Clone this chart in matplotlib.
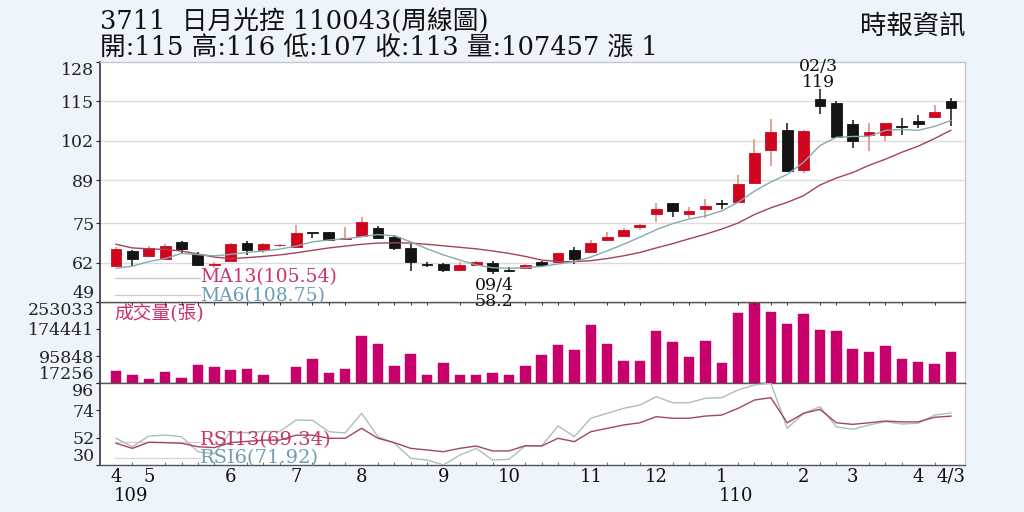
import matplotlib
matplotlib.use('Agg')
import matplotlib.pyplot as plt
import numpy as np

# ---------------- data ----------------
opens = [61.0, 65.8, 64.0, 63.3, 68.8, 64.8, 61.3, 62.6, 68.3, 66.0,
         67.6, 67.2, 71.8, 71.9, 69.8, 70.8, 73.5, 70.3, 66.9, 61.6,
         61.5, 59.5, 61.2, 62.0, 59.4, 60.2, 62.1, 62.1, 66.1, 65.6,
         69.3, 70.8, 73.8, 77.9, 81.5, 78.0, 79.5, 81.4, 82.0, 88.1,
         99.0, 105.6, 92.5, 115.7, 114.4, 107.5, 104.0, 104.0, 106.8, 108.5,
         109.8, 115.0]
highs = [67.0, 66.0, 67.3, 68.0, 69.2, 65.3, 62.2, 68.3, 69.0, 68.3,
         68.2, 74.3, 71.8, 72.2, 73.8, 77.0, 73.9, 71.0, 68.0, 62.3,
         62.0, 62.3, 62.6, 62.5, 60.4, 61.4, 62.4, 65.2, 67.2, 69.4,
         72.0, 73.5, 74.7, 81.7, 81.6, 80.2, 82.8, 82.6, 90.8, 102.7,
         109.2, 107.8, 105.6, 119.0, 115.0, 108.9, 107.8, 108.0, 109.5, 110.6,
         113.8, 116.0]
lows = [60.5, 61.0, 63.8, 63.0, 65.0, 61.0, 60.3, 62.4, 64.5, 65.2,
        67.2, 67.0, 70.0, 69.0, 69.4, 70.5, 70.0, 66.0, 59.2, 60.6,
        59.0, 59.3, 61.0, 58.2, 58.8, 59.9, 60.8, 62.0, 61.5, 65.3,
        69.0, 70.5, 72.8, 75.2, 77.0, 76.6, 76.8, 79.5, 81.7, 88.0,
        93.8, 91.8, 91.6, 111.0, 103.0, 99.6, 98.8, 102.1, 104.0, 106.2,
        109.5, 107.0]
closes = [66.5, 63.3, 66.8, 67.5, 66.3, 61.3, 61.6, 68.0, 66.1, 68.0,
          67.9, 71.6, 71.6, 69.3, 70.0, 75.4, 70.2, 66.7, 62.1, 61.3,
          59.5, 61.2, 62.2, 59.2, 59.3, 61.1, 61.1, 65.0, 63.3, 68.5,
          70.5, 72.7, 74.2, 79.5, 79.0, 79.0, 80.7, 81.2, 87.7, 97.9,
          104.8, 92.0, 105.3, 113.6, 103.4, 102.1, 104.9, 107.8, 106.6, 107.7,
          111.6, 113.0]
volumes = [50900, 39300, 29700, 49200, 31800, 68300, 64500, 53800, 56700, 41300,
           0, 63700, 86900, 47100, 56700, 154400, 132100, 67400, 103100, 40500,
           75300, 40500, 40500, 47100, 40500, 65400, 99300, 127500, 114700, 186300,
           130400, 81100, 81100, 169800, 137900, 93500, 139900, 75300, 222000, 253033,
           224900, 189200, 219100, 171000, 168100, 115900, 107200, 125400, 87700, 78100,
           73200, 107457]
ma13 = [68.0, 66.8, 66.5, 66.3, 65.8, 64.8, 63.8, 63.3, 63.6, 64.0,
        64.5, 65.2, 66.0, 66.8, 67.4, 68.0, 68.4, 68.5, 68.4, 68.0,
        67.5, 67.0, 66.5, 65.8, 65.0, 64.0, 62.8, 62.3, 62.3, 62.6,
        63.3, 64.2, 65.3, 66.8, 68.2, 69.8, 71.3, 73.0, 75.0, 77.8,
        80.0, 81.8, 84.0, 87.5, 89.8, 91.6, 94.0, 96.0, 98.3, 100.3,
        102.8, 105.54]
ma6 = [60.1, 60.8, 62.3, 63.3, 65.0, 64.6, 64.2, 64.7, 65.3, 65.8,
       66.4, 67.4, 68.8, 69.4, 69.8, 70.5, 71.2, 70.8, 68.8, 66.5,
       64.5, 62.8, 61.2, 60.3, 60.1, 60.3, 60.7, 61.5, 62.3, 63.8,
       65.8, 68.0, 70.3, 72.8, 74.8, 76.3, 77.3, 79.0, 81.8, 85.5,
       88.5, 91.0, 95.0, 100.5, 103.2, 103.5, 103.5, 105.5, 105.8, 105.5,
       106.8, 108.75]
rsi13 = [47.5, 43.4, 48.3, 48.0, 47.5, 44.7, 44.0, 48.0, 49.0, 50.0,
         50.0, 54.0, 54.0, 51.5, 51.5, 59.5, 51.5, 48.0, 43.4, 42.1,
         40.7, 43.4, 45.3, 41.3, 41.3, 45.5, 45.3, 51.5, 48.8, 56.8,
         59.5, 62.2, 64.0, 68.9, 67.6, 67.6, 69.4, 70.2, 75.6, 82.3,
         84.2, 64.0, 71.6, 74.8, 64.0, 62.7, 64.0, 65.4, 64.7, 64.7,
         68.4, 69.34]
rsi6 = [51.5, 44.7, 53.3, 54.1, 52.8, 40.7, 39.0, 56.8, 56.0, 57.0,
        57.0, 66.2, 66.0, 56.8, 55.8, 71.6, 52.8, 47.5, 35.4, 34.0,
        30.0, 38.0, 43.4, 34.0, 34.6, 45.5, 45.3, 61.4, 52.8, 67.6,
        71.6, 75.6, 78.3, 85.0, 80.1, 80.1, 83.7, 84.2, 90.4, 94.4,
        96.0, 59.5, 71.6, 76.9, 60.8, 58.7, 62.2, 64.9, 63.0, 63.6,
        70.2, 71.92]

month_pos = [0, 2, 7, 11, 15, 20, 24, 29, 33, 37, 42, 45, 49, 51]
month_labels = ['4', '5', '6', '7', '8', '9', '10', '11', '12', '1', '2', '3', '4', '4/3']
year_pos = [0.9, 37.9]
year_labels = ['109', '110']
price_ticks = [49, 62, 75, 89, 102, 115, 128]
vol_ticks = [17256, 95848, 174441, 253033]
rsi_ticks = [30, 52, 74, 96]

title1 = '3711  日月光控 110043(周線圖)'
title2 = '開:115 高:116 低:107 收:113 量:107457 漲 1'
source = '時報資訊'
ma13_label = 'MA13(105.54)'
ma6_label = 'MA6(108.75)'
vol_label = '成交量(張)'
rsi13_label = 'RSI13(69.34)'
rsi6_label = 'RSI6(71.92)'

# ---------------- style ----------------
FAM = ['DejaVu Serif', 'Noto Sans CJK TC']
plt.rcParams['font.family'] = FAM
BG = '#eef4fb'
RED = '#d0061f'
RED_WICK = '#d98a78'
BLACK = '#141414'
VOLC = '#c8006c'
MA13C = '#a8405a'
MA6C = '#86aab0'
TXT_RED = '#c8336e'
TXT_BLUE = '#6c9cb8'
GRID = '#dcdcdc'

n = len(opens)
x = np.arange(n)
o = np.array(opens); c = np.array(closes); h = np.array(highs); l = np.array(lows)

fig = plt.figure(figsize=(10.24, 5.12), dpi=100, facecolor=BG)
L = 100 / 1024
W = 865 / 1024
def fy(py):
    return 1 - py / 512
ax1 = fig.add_axes([L, fy(302), W, fy(62) - fy(302)])
ax2 = fig.add_axes([L, fy(383), W, fy(302) - fy(383)], sharex=ax1)
ax3 = fig.add_axes([L, fy(465), W, fy(383) - fy(465)], sharex=ax1)
ax1.set_zorder(5)

for ax in (ax1, ax2, ax3):
    ax.set_facecolor('white')
    for s in ('top', 'right'):
        ax.spines[s].set_color('#c8c8c8')
        ax.spines[s].set_linewidth(1.0)
    ax.spines['left'].set_color('#333333')
    ax.spines['left'].set_linewidth(1.2)
    ax.spines['bottom'].set_color('#555555')
    ax.spines['bottom'].set_linewidth(1.0)
    ax.tick_params(axis='y', labelsize=12.5, length=3, width=0.8, pad=1,
                   colors='#222222', direction='out')
    ax.tick_params(axis='x', length=0)

# -------- price panel --------
up = c >= o
body_lo = np.minimum(o, c)
body_h = np.maximum(np.abs(c - o), 0.3)
wick_col = [RED_WICK if u else BLACK for u in up]
body_col = [RED if u else BLACK for u in up]
ax1.vlines(x, l, h, colors=wick_col, linewidth=1.1, zorder=2)
ax1.bar(x, body_h, bottom=body_lo, width=0.66, color=body_col,
        edgecolor=body_col, linewidth=0.6, zorder=3)
ax1.plot(x, ma13, color=MA13C, linewidth=1.0, zorder=4)
ax1.plot(x, ma6, color=MA6C, linewidth=1.0, zorder=4)
ax1.set_ylim(49, 128)
ax1.set_yticks(price_ticks)
ax1.set_yticklabels([str(t) for t in price_ticks])
for t in price_ticks[1:-1]:
    ax1.axhline(t, color=GRID, linewidth=1.0, zorder=0)
ax1.set_xlim(-0.98, 51.86)
plt.setp(ax1.get_xticklabels(), visible=False)

# legend sample lines + texts
ax1.plot([0.017, 0.116], [0.10, 0.10], transform=ax1.transAxes, color='#c8c8c8', linewidth=0.9)
ax1.plot([0.017, 0.116], [0.029, 0.029], transform=ax1.transAxes, color='#c8c8c8', linewidth=0.9)
ax1.text(0.116, 0.103, ma13_label, transform=ax1.transAxes, color=TXT_RED,
         fontsize=13.5, va='center', ha='left')
ax1.text(0.116, 0.026, ma6_label, transform=ax1.transAxes, color=TXT_BLUE,
         fontsize=13.5, va='center', ha='left')

# high / low annotations
ih = int(np.argmax(h))
il = int(np.argmin(l))
ax1.annotate('119', (ih, h[ih]), xytext=(-1, -1), textcoords='offset points',
             ha='center', va='bottom', fontsize=12.5, color='#111111', annotation_clip=False)
ax1.annotate('02/3', (ih, h[ih]), xytext=(-1, 10.5), textcoords='offset points',
             ha='center', va='bottom', fontsize=12.5, color='#111111', annotation_clip=False)
ax1.annotate('09/4', (il, l[il]), xytext=(1, -2), textcoords='offset points',
             ha='center', va='top', fontsize=12.5, color='#111111', annotation_clip=False)
ax1.annotate('58.2', (il, l[il]), xytext=(1, -13.5), textcoords='offset points',
             ha='center', va='top', fontsize=12.5, color='#111111', annotation_clip=False)

# -------- volume panel --------
ax2.bar(x, volumes, width=0.64, color=VOLC, edgecolor=VOLC, linewidth=0.3, zorder=3)
ax2.set_ylim(17256, 253033)
ax2.set_yticks(vol_ticks)
ax2.set_yticklabels([str(t) for t in vol_ticks])
ax2.spines['top'].set_color('#555555')
plt.setp(ax2.get_xticklabels(), visible=False)
ax2.text(0.017, 0.85, vol_label, transform=ax2.transAxes, color=TXT_RED,
         fontsize=13.5, va='center', ha='left')

# -------- RSI panel --------
ax3.plot(x, rsi6, color='#a9bfc0', linewidth=1.0, zorder=3)
ax3.plot(x, rsi13, color='#a44560', linewidth=1.0, zorder=4)
ax3.set_ylim(30, 96)
ax3.set_yticks(rsi_ticks)
ax3.set_yticklabels([str(t) for t in rsi_ticks])
ax3.spines['top'].set_color('#555555')
ax3.plot([0.017, 0.116], [0.28, 0.28], transform=ax3.transAxes, color='#e3c8d0', linewidth=0.9)
ax3.plot([0.017, 0.116], [0.085, 0.085], transform=ax3.transAxes, color='#cfdada', linewidth=0.9)
ax3.text(0.116, 0.30, rsi13_label, transform=ax3.transAxes, color=TXT_RED,
         fontsize=14, va='center', ha='left', zorder=6)
ax3.text(0.116, 0.09, rsi6_label, transform=ax3.transAxes, color=TXT_BLUE,
         fontsize=14, va='center', ha='left', zorder=6)
ax3.set_xticks(month_pos)
ax3.set_xticklabels(month_labels, fontsize=13)
ax3.set_xticks(x, minor=True)
ax3.tick_params(axis='x', which='major', length=0, pad=2, colors='#111111')
ax3.tick_params(axis='x', which='minor', length=2, width=0.8, direction='in', colors='#777777')
for xp, lab in zip(year_pos, year_labels):
    ax3.text(xp, -0.38, lab, transform=ax3.get_xaxis_transform(), ha='center', va='center',
             fontsize=13, color='#111111')

# edge tick label alignment (keep inside the panel)
for ax in (ax1, ax2, ax3):
    labs = ax.get_yticklabels()
    labs[0].set_va('bottom')
    labs[-1].set_va('top')

# -------- header --------
fig.text(100 / 1024, fy(21), title1, fontsize=18.5, va='center', ha='left', color='#111111')
fig.text(100 / 1024, fy(48), title2, fontsize=18.5, va='center', ha='left', color='#111111')
fig.text(965 / 1024, fy(26), source, fontsize=19, va='center', ha='right', color='#111111')

fig.savefig('out.png', dpi=100, facecolor=BG)
